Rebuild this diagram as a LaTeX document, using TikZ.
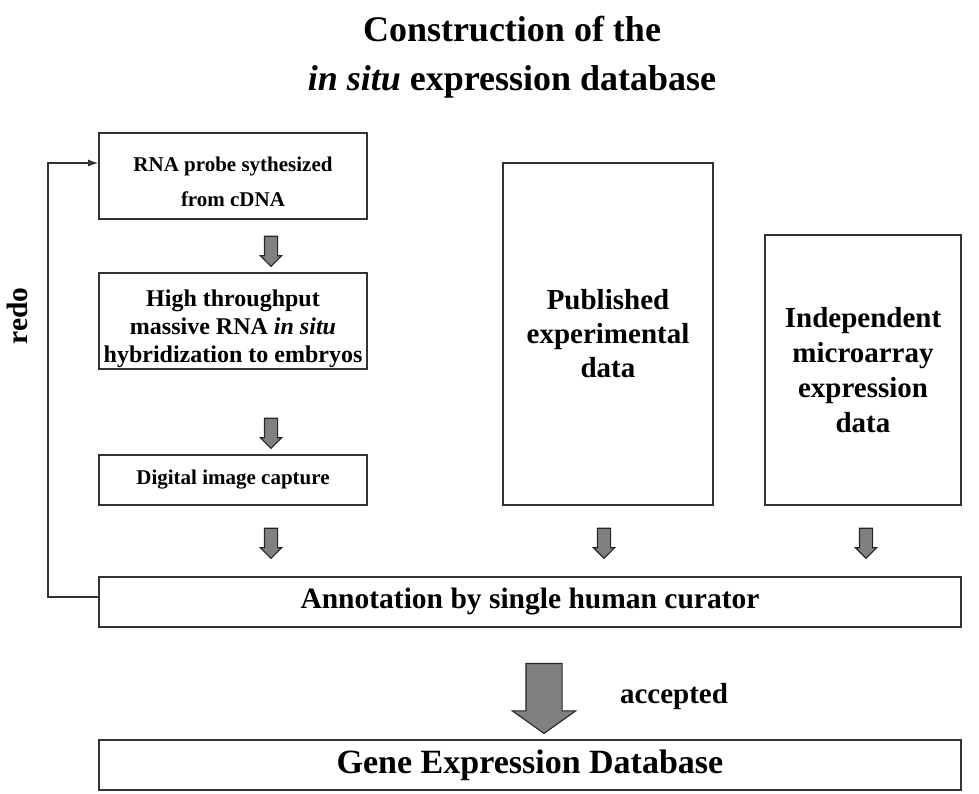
\documentclass[tikz,border=0pt]{standalone}
\usepackage{fontspec}
\setmainfont{Liberation Serif}
\usetikzlibrary{arrows.meta,shapes.arrows}

\newcommand{\fs}[2]{\bfseries\fontsize{#1}{#2}\selectfont}

\begin{document}
\begin{tikzpicture}[x=1pt,y=-1pt,
    box/.style={draw=black!80,line width=1.6pt,align=center,inner sep=0pt},
    txt/.style={align=center,inner sep=0pt},
    blk/.style={single arrow,draw=black!85,fill=black!50,line width=1.1pt,
      rotate=-90,inner xsep=0pt,single arrow head indent=0pt},
    small/.style={blk,minimum height=30pt,minimum width=20pt,inner ysep=6pt,
      single arrow head extend=4pt}]
  \useasboundingbox (0,0) rectangle (979,793);
  % title
  \node[align=center,font=\fs{36}{49}] (title) at (512,57)
    {Construction of the\\\textit{in situ} expression database};
  % boxes
  \node[box,minimum width=268pt,minimum height=86pt] (probe) at (233,176) {};
  \node[txt,font=\fs{21}{35}] (probetxt) at ([yshift=-6pt]probe.center)
    {RNA probe sythesized\\from cDNA};
  \node[box,minimum width=268pt,minimum height=96pt] (hyb) at (233,321) {};
  \node[txt,font=\fs{24}{28}] (hybtxt) at ([yshift=-8pt]hyb.center)
    {High throughput\\massive RNA \textit{in situ}\\hybridization to embryos};
  \node[box,minimum width=268pt,minimum height=50pt,font=\fs{21}{26}] (capture) at (233,480)
    {Digital image capture};
  \node[box,minimum width=210pt,minimum height=342pt,font=\fs{29}{34}] (pub) at (608,334)
    {Published\\experimental\\data};
  \node[box,minimum width=196pt,minimum height=270pt,font=\fs{29}{35}] (micro) at (863,370)
    {Independent\\microarray\\expression\\data};
  \node[box,minimum width=862pt,minimum height=50pt,font=\fs{29.5}{34}] (annot) at (530,602)
    {Annotation by single human curator};
  \node[box,minimum width=862pt,minimum height=50pt,font=\fs{34}{38}] (gene) at (530,765)
    {Gene Expression Database};
  % block arrows
  \node[small] (a1) at (271,248) {};
  \node[small] (a2) at (271,430) {};
  \node[small] (a3) at (271,540) {};
  \node[small] (a4) at (604,540) {};
  \node[small] (a5) at (866,540) {};
  \node[blk,minimum height=70pt,minimum width=62pt,inner ysep=17.5pt,
    single arrow head extend=13.5pt,single arrow tip angle=109] (big) at (544,692) {};
  \node[font=\fs{29}{32}] (acc) at (674,697) {accepted};
  % redo loop
  \coordinate (loop) at (48,0);
  \coordinate (out) at ([yshift=5pt]annot.west);
  \coordinate (in) at ([yshift=13pt]probe.west);
  \draw[-{Latex[length=10pt,width=7pt]},line width=1.3pt,draw=black!80]
    (out) -| (loop |- in) -- (in);
  \node[rotate=90,font=\fs{29.5}{32}] (redo) at (17,316) {redo};
\end{tikzpicture}
\end{document}
